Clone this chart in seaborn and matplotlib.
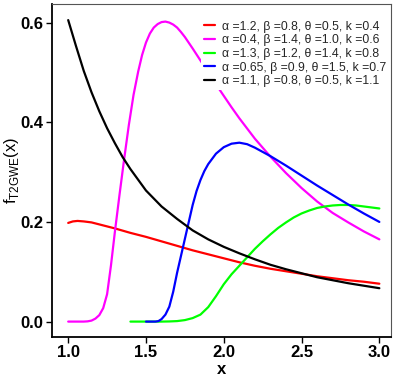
import numpy as np
import pandas as pd
import matplotlib
matplotlib.use("Agg")
import matplotlib.pyplot as plt
import seaborn as sns

labels = [
    "α =1.2, β =0.8, θ =0.5, k =0.4",
    "α =0.4, β =1.4, θ =1.0, k =0.6",
    "α =1.3, β =1.2, θ =1.4, k =0.8",
    "α =0.65, β =0.9, θ =1.5, k =0.7",
    "α =1.1, β =0.8, θ =0.5, k =1.1",
]
colors = ["#FF0000", "#FF00FF", "#00FF00", "#0000FF", "#000000"]

red_x = [1.0, 1.03, 1.06, 1.1, 1.15, 1.2, 1.3, 1.4, 1.5, 1.6, 1.7, 1.8, 1.9, 2.0, 2.1, 2.2, 2.3, 2.4, 2.5, 2.6, 2.7, 2.8, 2.9, 3.0]
red_y = [0.198, 0.201, 0.202, 0.201, 0.199, 0.195, 0.187, 0.178, 0.170, 0.161, 0.152, 0.143, 0.135, 0.127, 0.119, 0.112, 0.106, 0.101, 0.096, 0.091, 0.087, 0.083, 0.080, 0.076]

mag_x = [1.0, 1.1, 1.125, 1.15, 1.175, 1.2, 1.225, 1.25, 1.275, 1.3, 1.33, 1.36, 1.39, 1.42, 1.45, 1.475,
         1.5, 1.525, 1.55, 1.575, 1.6, 1.625, 1.65, 1.675, 1.7, 1.725, 1.75, 1.8, 1.85, 1.9, 1.95,
         2.0, 2.05, 2.1, 2.2, 2.3, 2.4, 2.5, 2.6, 2.7, 2.8, 2.9, 3.0]
mag_y = [0.0, 0.0, 0.0005, 0.002, 0.006, 0.013, 0.027, 0.055, 0.113, 0.180, 0.255, 0.327, 0.395, 0.455, 0.502, 0.535,
         0.560, 0.578, 0.590, 0.597, 0.601, 0.602, 0.600, 0.596, 0.590, 0.581, 0.571, 0.548, 0.524, 0.500, 0.476,
         0.453, 0.430, 0.408, 0.367, 0.331, 0.298, 0.268, 0.241, 0.218, 0.199, 0.181, 0.165]

grn_x = [1.4, 1.6, 1.65, 1.7, 1.75, 1.8, 1.85, 1.9, 1.95, 2.0, 2.05, 2.1, 2.15, 2.2, 2.25, 2.3, 2.35, 2.4,
         2.45, 2.5, 2.55, 2.6, 2.65, 2.7, 2.75, 2.8, 2.85, 2.9, 2.95, 3.0]
grn_y = [0.0, 0.0, 0.0003, 0.001, 0.003, 0.007, 0.014, 0.029, 0.051, 0.075, 0.095, 0.112, 0.129, 0.146, 0.161,
         0.175, 0.188, 0.199, 0.209, 0.217, 0.223, 0.228, 0.231, 0.233, 0.234, 0.234, 0.233, 0.231, 0.229, 0.227]

blu_x = [1.5, 1.56, 1.58, 1.6, 1.625, 1.65, 1.675, 1.7, 1.725, 1.75, 1.775, 1.8, 1.825, 1.85, 1.875, 1.9,
         1.95, 2.0, 2.05, 2.1, 2.15, 2.2, 2.3, 2.4, 2.5, 2.6, 2.7, 2.8, 2.9, 3.0]
blu_y = [0.0, 0.0, 0.001, 0.005, 0.014, 0.030, 0.060, 0.098, 0.132, 0.166, 0.200, 0.234, 0.262, 0.284, 0.302, 0.316,
         0.337, 0.350, 0.357, 0.359, 0.356, 0.349, 0.332, 0.313, 0.293, 0.273, 0.254, 0.235, 0.217, 0.200]

blk_x = [1.0, 1.05, 1.1, 1.15, 1.2, 1.25, 1.3, 1.35, 1.4, 1.5, 1.6, 1.7, 1.8, 1.9, 2.0, 2.1, 2.2, 2.3, 2.4, 2.5,
         2.6, 2.7, 2.8, 2.9, 3.0]
blk_y = [0.605, 0.553, 0.503, 0.460, 0.422, 0.388, 0.358, 0.330, 0.306, 0.263, 0.231, 0.206, 0.183, 0.165, 0.150,
         0.137, 0.125, 0.114, 0.105, 0.097, 0.089, 0.083, 0.077, 0.072, 0.067]

xs = [red_x, mag_x, grn_x, blu_x, blk_x]
ys = [red_y, mag_y, grn_y, blu_y, blk_y]

frames = []
for lab, x, y in zip(labels, xs, ys):
    frames.append(pd.DataFrame({"x": x, "y": y, "series": lab}))
df = pd.concat(frames, ignore_index=True)

sns.set_theme(style="white")
plt.rcParams["font.family"] = ["Liberation Sans", "DejaVu Sans"]

fig = plt.figure(figsize=(3.99, 3.77), dpi=100)
ax = fig.add_axes([0.130, 0.106, 0.850, 0.883])

sns.lineplot(data=df, x="x", y="y", hue="series", hue_order=labels,
             palette=dict(zip(labels, colors)), estimator=None, sort=False,
             units="series", linewidth=1.6, ax=ax, legend=True)

ax.set_xlim(0.895, 3.075)
ax.set_ylim(-0.031, 0.637)
ax.set_xticks([1.0, 1.5, 2.0, 2.5, 3.0])
ax.set_xticklabels(["1.0", "1.5", "2.0", "2.5", "3.0"])
ax.set_yticks([0.0, 0.2, 0.4, 0.6])
ax.set_yticklabels(["0.0", "0.2", "0.4", "0.6"])
ax.tick_params(axis="both", which="major", direction="out", length=4, width=1,
               color="black", labelsize=12, pad=2, bottom=True, left=True)
for t in ax.get_xticklabels() + ax.get_yticklabels():
    t.set_fontweight("bold")
    t.set_color("black")

ax.set_xlabel("x", fontsize=12, fontweight="bold", color="black", labelpad=1)
ax.set_ylabel(r"f$_{\mathregular{T2GWE}}$(x)", fontsize=12, color="black")
ax.yaxis.set_label_coords(-0.09, 0.5)

for side in ["left", "bottom"]:
    ax.spines[side].set_color("black")
    ax.spines[side].set_linewidth(1.3)
for side in ["top", "right"]:
    ax.spines[side].set_color("#555555")
    ax.spines[side].set_linewidth(0.8)

leg = ax.legend(loc="upper left", bbox_to_anchor=(0.441, 0.958), frameon=True,
                fontsize=8.8, handlelength=0.9, handletextpad=0.55,
                labelspacing=0.14, borderpad=0.2, borderaxespad=0.0)
leg.get_frame().set_facecolor("white")
leg.get_frame().set_edgecolor("none")
leg.get_frame().set_alpha(1.0)
leg.get_frame().set_boxstyle("square", pad=0.0)

fig.savefig("out.png", dpi=100)
